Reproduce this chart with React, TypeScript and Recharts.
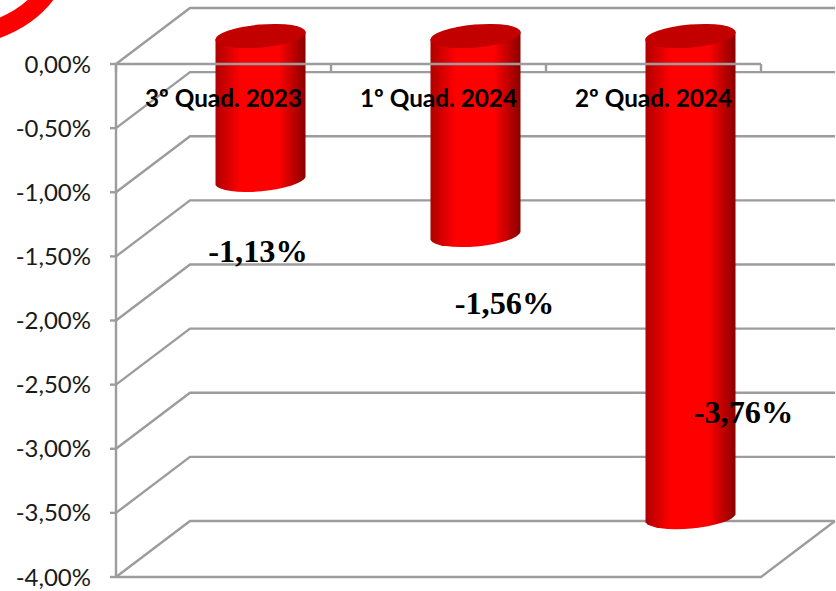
import { BarChart, Bar, XAxis, YAxis, CartesianGrid, LabelList } from "recharts";

const categories = ["3º Quad. 2023", "1º Quad. 2024", "2º Quad. 2024"];
const values = [-1.13, -1.56, -3.76];
const yTicks = [0, -0.5, -1, -1.5, -2, -2.5, -3, -3.5, -4];

const chartData = categories.map((name, i) => ({ name, value: values[i] }));

const WIDTH = 836;
const HEIGHT = 591;
const PLOT_BOTTOM = 577;
const GRAY = "#9c9c9c";
// fake 3d depth of the walls
const DEPTH_X = 74;
const DEPTH_Y = -56;
const BAR_SHIFT_X = 36.5;
// hand placed labels in the original slide, relative to the category centre / bar end
const labelNudge = [
  { dx: 34, dy: 81.5 },
  { dx: 65.5, dy: 77.5 },
  { dx: 89.5, dy: -95 },
];

const pct = (v: number) => v.toFixed(2).replace(".", ",") + "%";

function GridLine(props: any) {
  const { x1, y1, x2 } = props;
  const floor = y1 >= PLOT_BOTTOM - 1;
  return (
    <g fill="none" stroke={GRAY} strokeWidth={2.4}>
      <polyline points={`${x1},${y1} ${x1 + DEPTH_X},${y1 + DEPTH_Y} ${x2 + DEPTH_X},${y1 + DEPTH_Y}`} />
      {floor && <polyline points={`${x1},${y1} ${x2},${y1} ${x2 + DEPTH_X},${y1 + DEPTH_Y}`} />}
    </g>
  );
}

function Cylinder(props: any) {
  const { x, y, width, height } = props;
  const top = Math.min(y, y + height) + DEPTH_Y / 2;
  const bottom = Math.max(y, y + height) + DEPTH_Y / 2;
  const left = x + BAR_SHIFT_X;
  const right = left + width;
  const tilt = 4;
  const rx = width / 2 + 0.4;
  const ry = 11.5;
  const arc = `A ${rx} ${ry} -5 0 0`;
  return (
    <g>
      <path
        d={`M ${left} ${top + tilt} L ${left} ${bottom + tilt} ${arc} ${right} ${bottom - tilt} L ${right} ${top - tilt} ${arc} ${left} ${top + tilt} Z`}
        fill="url(#cyl)"
      />
      <ellipse
        cx={(left + right) / 2}
        cy={top}
        rx={rx}
        ry={ry}
        transform={`rotate(-5 ${(left + right) / 2} ${top})`}
        fill="#c20000"
      />
    </g>
  );
}

function CategoryTick(props: any) {
  const { x, y, payload, index } = props;
  const half = (props.width ?? 645) / categories.length / 2;
  return (
    <g>
      <line x1={x + half} y1={y} x2={x + half} y2={y + 8} stroke={GRAY} strokeWidth={2.4} />
      {index === 0 && <line x1={x - half} y1={y} x2={x - half} y2={y + 8} stroke={GRAY} strokeWidth={2.4} />}
      <text x={x} y={y + 43} textAnchor="middle" fontFamily="Lato" fontWeight={700} fontSize={24.3} fill="#000">
        {payload.value}
      </text>
    </g>
  );
}

function ValueLabel(props: any) {
  const { x, y, width, height, value, index } = props;
  const nudge = labelNudge[index];
  const end = Math.max(y, y + height) + DEPTH_Y / 2;
  return (
    <text
      x={x + width / 2 + nudge.dx}
      y={end + nudge.dy}
      textAnchor="middle"
      fontFamily="Liberation Serif"
      fontWeight={700}
      fontSize={32.3}
      fill="#000"
    >
      {pct(value)}
    </text>
  );
}

export default function App() {
  return (
    <div style={{ position: "absolute", left: 0, top: 0, width: WIDTH, height: HEIGHT, background: "#fff", overflow: "hidden" }}>
      <BarChart
        width={WIDTH}
        height={HEIGHT}
        data={chartData}
        margin={{ top: 34, right: 75, bottom: HEIGHT - PLOT_BOTTOM, left: 0 }}
        barSize={90}
      >
        <defs>
          <linearGradient id="cyl" x1="0" y1="0" x2="1" y2="0">
            <stop offset="0" stopColor="#b00000" />
            <stop offset="0.28" stopColor="#ff0000" />
            <stop offset="0.7" stopColor="#ff0000" />
            <stop offset="1" stopColor="#8a0000" />
          </linearGradient>
        </defs>
        <CartesianGrid vertical={false} horizontal={GridLine} />
        <YAxis
          type="number"
          domain={[-4, 0]}
          ticks={yTicks}
          interval={0}
          width={116}
          tickFormatter={pct}
          axisLine={{ stroke: GRAY, strokeWidth: 2.4 }}
          tickLine={{ stroke: GRAY, strokeWidth: 2.4 }}
          tickSize={6}
          tickMargin={19}
          tick={{ fontFamily: "Lato", fontSize: 24, fill: "#1a1a1a" }}
        />
        <Bar dataKey="value" isAnimationActive={false} shape={Cylinder}>
          <LabelList dataKey="value" content={ValueLabel} />
        </Bar>
        <XAxis
          dataKey="name"
          orientation="top"
          interval={0}
          tickLine={false}
          tickSize={0}
          tickMargin={0}
          axisLine={{ stroke: GRAY, strokeWidth: 2.4 }}
          tick={CategoryTick}
        />
      </BarChart>
      <svg width={WIDTH} height={HEIGHT} style={{ position: "absolute", left: 0, top: 0, pointerEvents: "none" }}>
        <path d="M -6 30 Q 28 18 46 -6" fill="none" stroke="#ff0000" strokeWidth={19} />
      </svg>
    </div>
  );
}
